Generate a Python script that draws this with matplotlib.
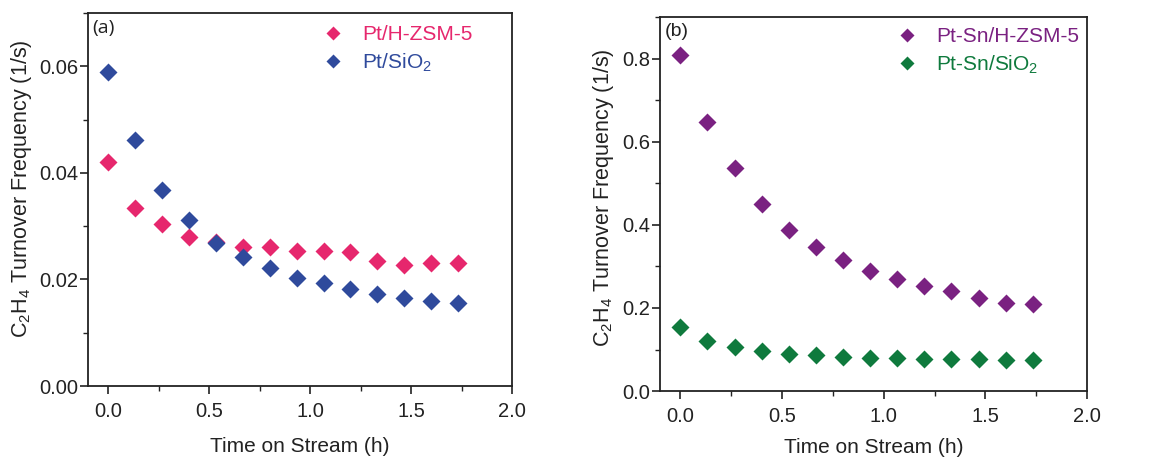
import matplotlib
matplotlib.use("Agg")
import matplotlib.pyplot as plt
from matplotlib.ticker import MultipleLocator

plt.rcParams['font.family'] = ['Liberation Sans', 'DejaVu Sans']
plt.rcParams['mathtext.fontset'] = 'custom'
plt.rcParams['mathtext.rm'] = 'Liberation Sans'
plt.rcParams['mathtext.it'] = 'Liberation Sans:italic'

# Time on stream (h), sampled every 8 min
time_h = [0.0, 0.133, 0.267, 0.4, 0.533, 0.667, 0.8, 0.933, 1.067, 1.2,
          1.333, 1.467, 1.6, 1.733]

# Panel (a): monometallic Pt catalysts
pt_hzsm5 = [0.0420, 0.0334, 0.0304, 0.0279, 0.0270, 0.0261, 0.0261, 0.0254,
            0.0254, 0.0251, 0.0234, 0.0227, 0.0230, 0.0230]
pt_sio2 = [0.0589, 0.0461, 0.0367, 0.0311, 0.0269, 0.0242, 0.0222, 0.0203,
           0.0193, 0.0182, 0.0172, 0.0166, 0.0159, 0.0156]

# Panel (b): bimetallic Pt-Sn catalysts
ptsn_hzsm5 = [0.809, 0.647, 0.537, 0.451, 0.387, 0.346, 0.315, 0.288,
              0.269, 0.252, 0.240, 0.224, 0.213, 0.209]
ptsn_sio2 = [0.154, 0.121, 0.105, 0.096, 0.089, 0.086, 0.082, 0.080,
             0.079, 0.078, 0.077, 0.076, 0.075, 0.074]

fig = plt.figure(figsize=(11.59, 4.59), dpi=100)
ax_a = fig.add_axes([0.0759, 0.159, 0.3659, 0.8127])
ax_b = fig.add_axes([0.5695, 0.148, 0.3684, 0.815])

ylabel = r'C$_2$H$_4$ Turnover Frequency (1/s)'
ink = '#222222'


def style(ax, ylim, ymaj, ymin, yfmt, ylab_xy, xlab_y):
    ax.set_xlim(-0.1, 2.0)
    ax.set_ylim(*ylim)
    ax.xaxis.set_major_locator(MultipleLocator(0.5))
    ax.xaxis.set_minor_locator(MultipleLocator(0.25))
    ax.yaxis.set_major_locator(MultipleLocator(ymaj))
    ax.yaxis.set_minor_locator(MultipleLocator(ymin))
    ax.yaxis.set_major_formatter(yfmt)
    ax.tick_params(which='major', direction='out', length=5.5, width=1.2,
                   labelsize=14.5, colors=ink, pad=1.5)
    ax.tick_params(axis='x', which='major', pad=6)
    ax.tick_params(which='minor', direction='out', length=3.5, width=1.0,
                   colors=ink)
    ax.tick_params(top=False, right=False, which='both')
    for s in ax.spines.values():
        s.set_linewidth(1.3)
        s.set_color(ink)
    ax.set_xlabel('Time on Stream (h)', fontsize=15, color=ink)
    ax.set_ylabel(ylabel, fontsize=15.5, color=ink)
    ax.yaxis.set_label_coords(*ylab_xy)
    ax.xaxis.set_label_coords(0.5, xlab_y)


ms = 9.5
ax_a.plot(time_h, pt_hzsm5, 'D', color='#e6276d', ms=ms, mec='none', label='Pt/H-ZSM-5')
ax_a.plot(time_h, pt_sio2, 'D', color='#2f4a9c', ms=ms, mec='none', label='Pt/SiO$_2$')
style(ax_a, (0, 0.07), 0.02, 0.01, '{x:.2f}', (-0.128, 0.528), -0.137)
ax_a.text(0.01, 0.985, '(a)', transform=ax_a.transAxes, fontsize=14,
          va='top', ha='left', family='Open Sans', color=ink)

ax_b.plot(time_h, ptsn_hzsm5, 'D', color='#7a2181', ms=ms, mec='none', label='Pt-Sn/H-ZSM-5')
ax_b.plot(time_h, ptsn_sio2, 'D', color='#0f7a3d', ms=ms, mec='none', label='Pt-Sn/SiO$_2$')
style(ax_b, (0, 0.9), 0.2, 0.1, '{x:.1f}', (-0.103, 0.516), -0.125)
ax_b.text(0.01, 0.985, '(b)', transform=ax_b.transAxes, fontsize=14,
          va='top', ha='left', color=ink)

for ax, cols, anchor in ((ax_a, ['#e6276d', '#2f4a9c'], (0.553, 0.968)),
                         (ax_b, ['#7a2181', '#0f7a3d'], (0.554, 0.972))):
    leg = ax.legend(loc='upper left', bbox_to_anchor=anchor, frameon=False,
                    fontsize=15, markerscale=0.72, handlelength=1.0,
                    handletextpad=0.9, labelspacing=0.35, borderpad=0,
                    borderaxespad=0)
    for t, c in zip(leg.get_texts(), cols):
        t.set_color(c)

fig.savefig('out.png', dpi=100)
